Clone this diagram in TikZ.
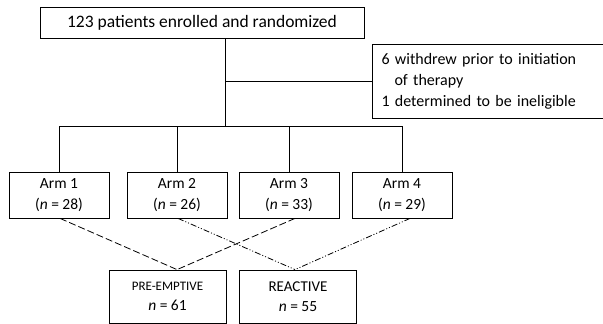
\documentclass[tikz,border=0pt]{standalone}
\usepackage{fontspec}
\setmainfont{Carlito}
\begin{document}
\begin{tikzpicture}[
every node/.style={font=\fontsize{15.5}{20.5}\selectfont},
box/.style={draw,line width=0.8pt,align=center,inner sep=0pt},
armbox/.style={box,minimum width=100pt,minimum height=46pt},
groupbox/.style={box,minimum width=117pt,minimum height=53pt},
conn/.style={line width=0.8pt},
longdash/.style={line width=0.8pt,dash pattern=on 7pt off 3pt},
dashdotdot/.style={line width=0.8pt,dash pattern=on 6pt off 2pt on 1pt off 2pt on 1pt off 2pt},
x=1pt,
y=-1pt
]
\useasboundingbox (0,0) rectangle (603,324);

% top row
\node[box,minimum width=324pt,minimum height=31pt,font=\fontsize{17.5}{20}\selectfont] (enrol) at (202,22.5)
{123 patients enrolled and randomized};
\node[box,minimum width=231pt,minimum height=74pt,align=left,text width=212pt,
font=\fontsize{16}{21}\selectfont] (excl) at (487.5,81)
{6 withdrew prior to initiation\\ \hspace*{13pt}of therapy\\ 1 determined to be ineligible};

% arms
\node[armbox] (arm1) at (59,195) {Arm 1\\(\textit{n} = 28)};
\node[armbox] (arm2) at (177,195) {Arm 2\\(\textit{n} = 26)};
\node[armbox] (arm3) at (289,195) {Arm 3\\(\textit{n} = 33)};
\node[armbox] (arm4) at (402,195) {Arm 4\\(\textit{n} = 29)};

% groups
\node[groupbox] (pre) at (167.5,296.5)
{{\fontsize{13}{20.5}\selectfont PRE-EMPTIVE}\\\textit{n} = 61};
\node[groupbox] (rea) at (298,296.5) {{\fontsize{15}{20.5}\selectfont REACTIVE}\\\textit{n} = 55};

% connecting lines
\coordinate (split) at (225,126);
\draw[conn] (enrol.south -| split) -- (split);
\draw[conn] (excl.west -| split) -- (excl.west);
\draw[conn] (arm1.north |- split) -- (arm4.north |- split);
\draw[conn] (arm1.north |- split) -- (arm1.north);
\draw[conn] (arm2.north |- split) -- (arm2.north);
\draw[conn] (arm3.north |- split) -- (arm3.north);
\draw[conn] (arm4.north |- split) -- (arm4.north);

% allocation to groups
\draw[longdash] ([xshift=1pt]arm1.south) -- ([xshift=9.5pt]pre.north);
\draw[longdash] ([xshift=6pt]arm3.south) -- ([xshift=9.5pt]pre.north);
\draw[dashdotdot] ([xshift=1pt]arm2.south) -- ([xshift=-3pt]rea.north);
\draw[dashdotdot] ([xshift=8pt]arm4.south) -- ([xshift=-3pt]rea.north);

\end{tikzpicture}
\end{document}
